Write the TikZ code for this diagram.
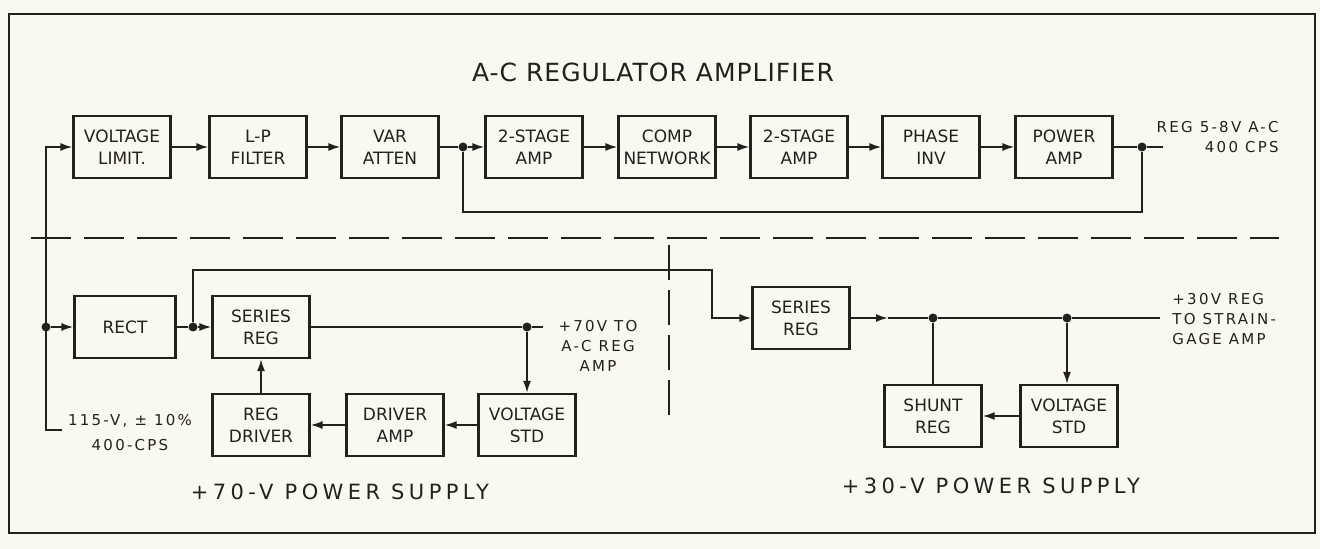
\documentclass[tikz,border=0pt]{standalone}
\usepackage{fontspec}
\setmainfont{DejaVu Sans}
\newfontfamily\rotfont[LetterSpace=15]{DejaVu Sans}
\newfontfamily\titfont[LetterSpace=4]{DejaVu Sans}
\newfontfamily\piefont[LetterSpace=21]{DejaVu Sans}
\usetikzlibrary{arrows.meta}
\definecolor{papel}{RGB}{250,249,241}
\definecolor{tinta}{RGB}{35,33,30}

\begin{document}
\begin{tikzpicture}[
    x=0.5pt, y=-0.5pt,
    bloque/.style={draw=tinta, line width=1.1pt, minimum width=48.5pt, minimum height=31pt, inner sep=0pt, align=center, text=tinta, font=\fontsize{8.5}{11}\selectfont},
    linea/.style={draw=tinta, line width=0.9pt},
    flecha/.style={linea, -{Latex[length=6pt,width=4pt]}},
    punto/.style={circle, fill=tinta, inner sep=0pt, minimum size=4.5pt},
    rotulo/.style={align=center, inner sep=0pt, text=tinta, font=\rotfont\fontsize{7.5}{10}\selectfont},
    corte/.style={draw=tinta, line width=0.9pt, dash pattern=on 20pt off 6.5pt}
]
    % --- FONDO Y MARCO ---
    \fill[papel] (0,0) rectangle (1320,549);
    \useasboundingbox (0,0) rectangle (1320,549);
    \draw[draw=tinta, line width=1.2pt] (9,14) rectangle (1315,533);

    % --- A-C REGULATOR AMPLIFIER ---
    \node[text=tinta, font=\titfont\fontsize{12.5}{15}\selectfont] (tit) at (653,72) {A-C REGULATOR AMPLIFIER};
    \node[bloque] (VL) at (122,147) {VOLTAGE\\LIMIT.};
    \node[bloque] (LP) at (258,147) {L-P\\FILTER};
    \node[bloque] (VA) at (390,147) {VAR\\ATTEN};
    \node[bloque] (A1) at (534,147) {2-STAGE\\AMP};
    \node[bloque] (CN) at (667,147) {COMP\\NETWORK};
    \node[bloque] (A2) at (799,147) {2-STAGE\\AMP};
    \node[bloque] (PI) at (931,147) {PHASE\\INV};
    \node[bloque] (PA) at (1064,147) {POWER\\AMP};
    \node[punto] (J1) at (463,147) {};
    \node[punto] (J2) at (1142,147) {};
    \coordinate (S1) at (1163,147);
    \coordinate (R1) at (1142,212);

    \draw[flecha] (VL) -- (LP);
    \draw[flecha] (LP) -- (VA);
    \draw[linea] (VA) -- (J1);
    \draw[flecha] (J1) -- (A1);
    \draw[flecha] (A1) -- (CN);
    \draw[flecha] (CN) -- (A2);
    \draw[flecha] (A2) -- (PI);
    \draw[flecha] (PI) -- (PA);
    \draw[linea] (PA) -- (J2) -- (S1);
    \draw[linea] (J2) -- (R1) -| (J1);
    \node[rotulo, anchor=east, align=right] (out) at (1279,137) {REG 5-8V A-C\\400 CPS};

    % --- ENTRADA 115 V ---
    \coordinate (E1) at (46,147);
    \coordinate (E2) at (46,430);
    \coordinate (E3) at (62,430);
    \node[punto] (J0) at (46,327) {};
    \draw[flecha] (E3) -- (E2) -- (E1) -- (VL);
    \node[rotulo, font=\rotfont\fontsize{7.5}{12.5}\selectfont] (ent) at (130,433) {115-V, ± 10\%\\400-CPS};

    % --- DIVISIONES ---
    \coordinate (D1) at (31,238);
    \coordinate (D2) at (1279,238);
    \coordinate (D3) at (669,245);
    \coordinate (D4) at (669,419);
    \draw[corte] (D1) -- (D2);
    \draw[corte, dash pattern=on 17.5pt off 5pt] (D3) -- (D4);

    % --- +70-V POWER SUPPLY ---
    \node[bloque, minimum width=50.5pt] (RE) at (125,327) {RECT};
    \node[bloque] (S7) at (261,327) {SERIES\\REG};
    \node[bloque] (V7) at (527,425) {VOLTAGE\\STD};
    \node[bloque] (DA) at (395,425) {DRIVER\\AMP};
    \node[bloque] (RD) at (261,425) {REG\\DRIVER};
    \node[punto] (J3) at (193,327) {};
    \node[punto] (J4) at (527,327) {};
    \coordinate (S2) at (543,327);

    \draw[flecha] (J0) -- (RE);
    \draw[linea] (RE) -- (J3);
    \draw[flecha] (J3) -- (S7);
    \draw[linea] (S7) -- (J4) -- (S2);
    \draw[flecha] (J4) -- (V7);
    \draw[flecha] (V7) -- (DA);
    \draw[flecha] (DA) -- (RD);
    \draw[flecha] (RD) -- (S7);
    \node[rotulo] (sal70) at (598,346) {+70V TO\\A-C REG\\AMP};
    \node[text=tinta, font=\piefont\fontsize{10.5}{12}\selectfont] (pie70) at (340,492) {+70-V POWER SUPPLY};

    % --- +30-V POWER SUPPLY ---
    \coordinate (K1) at (193,270);
    \coordinate (K2) at (712,270);
    \node[bloque] (S3) at (801,318) {SERIES\\REG};
    \node[bloque] (SH) at (933,416) {SHUNT\\REG};
    \node[bloque] (V3) at (1069,416) {VOLTAGE\\STD};
    \node[punto] (J5) at (933,318) {};
    \node[punto] (J6) at (1067,318) {};
    \coordinate (A3) at (888,318);
    \coordinate (S4) at (1160,318);

    \draw[flecha] (J3) -- (K1) -- (K2) |- (S3);
    \draw[flecha] (S3) -- (A3);
    \draw[linea] (A3) -- (J5) -- (J6) -- (S4);
    \draw[linea] (J5) -- (SH);
    \draw[flecha] (J6) -- (J6 |- V3.north);
    \draw[flecha] (V3) -- (SH);
    \node[rotulo, anchor=west, align=left] (sal30) at (1172,319) {+30V REG\\TO STRAIN-\\GAGE AMP};
    \node[text=tinta, font=\piefont\fontsize{10.5}{12}\selectfont] (pie30) at (991,486) {+30-V POWER SUPPLY};
\end{tikzpicture}
\end{document}
